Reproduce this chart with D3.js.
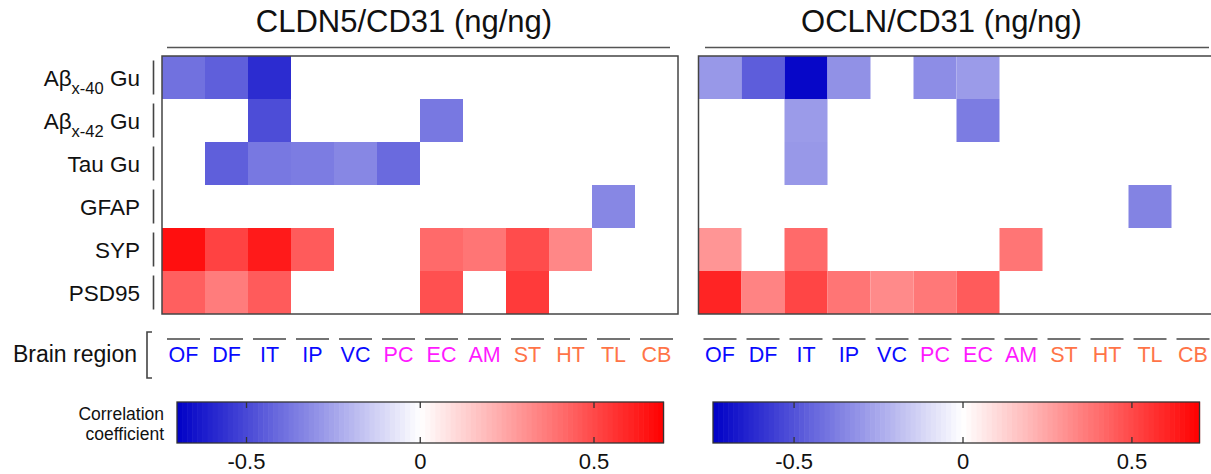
<!DOCTYPE html>
<html>
<head>
<meta charset="utf-8">
<script src="https://cdn.jsdelivr.net/npm/d3@7"></script>
<style>
  body { margin: 0; background: #fff; }
  svg { display: block; font-family: "Liberation Sans", Arial, Helvetica, sans-serif; }
</style>
</head>
<body>
<div id="chart"></div>
<script>
// rows: "main|subscript|tail"
var rows = ["Aβ|x-40| Gu", "Aβ|x-42| Gu", "Tau Gu", "GFAP", "SYP", "PSD95"];
var regions = ["OF", "DF", "IT", "IP", "VC", "PC", "EC", "AM", "ST", "HT", "TL", "CB"];
var regionGroups = ["b", "b", "b", "b", "b", "m", "m", "m", "o", "o", "o", "o"];
var groupColors = {b: "#0a0aff", m: "#ff1aff", o: "#ff7448"};

var titles = ["CLDN5/CD31 (ng/ng)", "OCLN/CD31 (ng/ng)"];
var colorTicks = [-0.5, 0, 0.5];
var colorTickLabels = ["-0.5", "0", "0.5"];

// correlation coefficients, null = not significant (blank)
var cldn5 = [
  [-0.39, -0.44, -0.58, null, null, null, null, null, null, null, null, null],
  [null, null, -0.49, null, null, null, -0.37, null, null, null, null, null],
  [null, -0.44, -0.37, -0.36, -0.33, -0.41, null, null, null, null, null, null],
  [null, null, null, null, null, null, null, null, null, null, -0.33, null],
  [0.66, 0.52, 0.63, 0.45, null, null, 0.41, 0.38, 0.49, 0.33, null, null],
  [0.44, 0.36, 0.45, null, null, null, 0.48, null, 0.54, null, null, null]
];
var ocln = [
  [-0.30, -0.47, -0.72, -0.32, null, -0.33, -0.29, null, null, null, null, null],
  [null, null, -0.29, null, null, null, -0.38, null, null, null, null, null],
  [null, null, -0.30, null, null, null, null, null, null, null, null, null],
  [null, null, null, null, null, null, null, null, null, null, -0.36, null],
  [0.29, null, 0.41, null, null, null, null, 0.38, null, null, null, null],
  [0.60, 0.34, 0.51, 0.38, 0.32, 0.37, 0.45, null, null, null, null, null]
];
var colorDomains = [[-0.70, 0.70], [-0.74, 0.70]];

var W = 1211, H = 474;
var svg = d3.select("#chart").append("svg").attr("width", W).attr("height", H);

var panels = [
  {x0: 162, data: cldn5, title: titles[0], titleX: 404, lineX: [167, 670], bar: [177, 663.5], dom: colorDomains[0]},
  {x0: 698.5, data: ocln, title: titles[1], titleX: 941.5, lineX: [705, 1209], bar: [713, 1199.5], dom: colorDomains[1]}
];
var cell = 43;
var y = d3.scaleBand().domain(rows).range([56, 56 + cell * rows.length]);

function makeColor(dom) {
  return d3.scaleLinear().domain([dom[0], 0, dom[1]])
    .range(["#0000c6", "#ffffff", "#ff0000"]).clamp(true);
}

panels.forEach(function(p) {
  var x = d3.scaleBand().domain(regions).range([p.x0, p.x0 + cell * regions.length]);
  var color = makeColor(p.dom);
  var g = svg.append("g");

  // title and bracket line
  g.append("text").attr("x", p.titleX).attr("y", 32).attr("text-anchor", "middle")
    .attr("font-size", 31).attr("fill", "#111").text(p.title);
  g.append("line").attr("x1", p.lineX[0]).attr("x2", p.lineX[1]).attr("y1", 47.5).attr("y2", 47.5)
    .attr("stroke", "#555").attr("stroke-width", 1.6);

  // cells
  var cells = [];
  p.data.forEach(function(r, i) {
    r.forEach(function(v, j) { if (v !== null) cells.push({row: rows[i], col: regions[j], v: v}); });
  });
  g.selectAll("rect.cell").data(cells).enter().append("rect")
    .attr("class", "cell")
    .attr("x", function(d) { return x(d.col); })
    .attr("y", function(d) { return y(d.row); })
    .attr("width", x.bandwidth()).attr("height", y.bandwidth())
    .attr("fill", function(d) { return color(d.v); });

  // frame
  g.append("rect").attr("x", x.range()[0]).attr("y", y.range()[0])
    .attr("width", x.range()[1] - x.range()[0]).attr("height", y.range()[1] - y.range()[0])
    .attr("fill", "none").attr("stroke", "#444").attr("stroke-width", 1.5);

  // region labels with overlines
  var lab = g.selectAll("g.reg").data(regions).enter().append("g").attr("class", "reg")
    .attr("transform", function(d) { return "translate(" + (x(d) + x.bandwidth() / 2) + ",0)"; });
  lab.append("line").attr("x1", -16.5).attr("x2", 16.5).attr("y1", 339).attr("y2", 339)
    .attr("stroke", "#444").attr("stroke-width", 1.3);
  lab.append("text").attr("y", 362).attr("text-anchor", "middle").attr("font-size", 21.5)
    .attr("fill", function(d, i) { return groupColors[regionGroups[i]]; })
    .text(function(d) { return d; });

  // colorbar
  var cx = d3.scaleLinear().domain(p.dom).range(p.bar);
  var steps = d3.range(0, 96);
  var stepW = (p.bar[1] - p.bar[0]) / steps.length;
  var cb = g.append("g");
  cb.selectAll("rect").data(steps).enter().append("rect")
    .attr("x", function(i) { return p.bar[0] + i * stepW; })
    .attr("y", 402).attr("width", stepW + 0.6).attr("height", 41)
    .attr("fill", function(i) { return color(cx.invert(p.bar[0] + (i + 0.5) * stepW)); });
  cb.append("rect").attr("x", p.bar[0]).attr("y", 402).attr("width", p.bar[1] - p.bar[0]).attr("height", 41)
    .attr("fill", "none").attr("stroke", "#333").attr("stroke-width", 1.3);
  var tk = cb.selectAll("g.tk").data(colorTicks).enter().append("g").attr("class", "tk")
    .attr("transform", function(d) { return "translate(" + cx(d) + ",0)"; });
  tk.append("line").attr("y1", 402).attr("y2", 408).attr("stroke", "#333").attr("stroke-width", 1.3);
  tk.append("line").attr("y1", 437).attr("y2", 443).attr("stroke", "#333").attr("stroke-width", 1.3);
  tk.append("text").attr("y", 469).attr("text-anchor", "middle").attr("font-size", 22).attr("fill", "#111")
    .text(function(d, i) { return colorTickLabels[i]; });
});

// row labels and separators (left side)
var rl = svg.selectAll("g.row").data(rows).enter().append("g").attr("class", "row")
  .attr("transform", function(d) { return "translate(0," + (y(d) + y.bandwidth() / 2) + ")"; });
rl.append("line").attr("x1", 153.5).attr("x2", 153.5).attr("y1", -17).attr("y2", 17)
  .attr("stroke", "#444").attr("stroke-width", 1.6);
var rt = rl.append("text").attr("x", 140).attr("y", 8).attr("text-anchor", "end")
  .attr("font-size", 22.5).attr("fill", "#111");
rt.each(function(d) {
  var parts = d.split("|");
  var t = d3.select(this);
  if (parts.length === 1) { t.text(d); return; }
  t.append("tspan").text(parts[0]);
  t.append("tspan").attr("dy", 8).attr("font-size", 16.5).text(parts[1]);
  t.append("tspan").attr("dy", -8).text(parts[2]);
});

// brain region label and bracket
svg.append("text").attr("x", 137).attr("y", 362).attr("text-anchor", "end")
  .attr("font-size", 23).attr("fill", "#111").text("Brain region");
svg.append("path").attr("d", "M152,332 H147 V378 H152").attr("fill", "none")
  .attr("stroke", "#444").attr("stroke-width", 1.6);

// colorbar caption
svg.append("text").attr("x", 164).attr("y", 420).attr("text-anchor", "end")
  .attr("font-size", 17.5).attr("fill", "#111").text("Correlation");
svg.append("text").attr("x", 164).attr("y", 440).attr("text-anchor", "end")
  .attr("font-size", 17.5).attr("fill", "#111").text("coefficient");
</script>
</body>
</html>
